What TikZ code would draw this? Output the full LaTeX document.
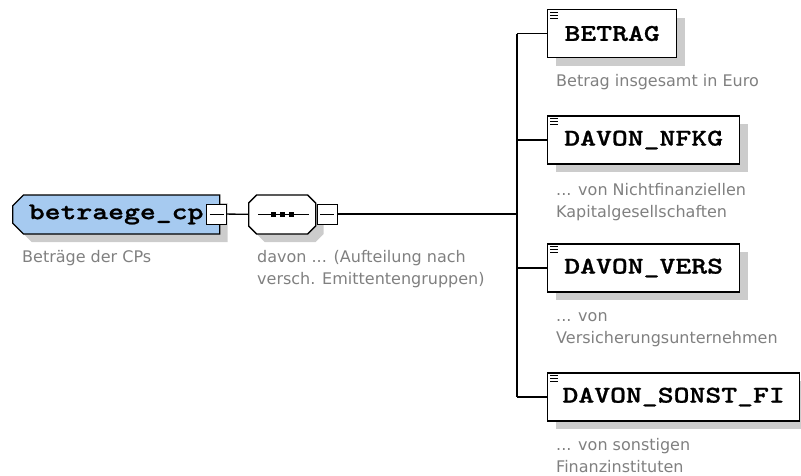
\documentclass[tikz,border=0pt]{standalone}
\usepackage{fontspec}
\usetikzlibrary{shapes.misc,shadows}
\newfontfamily\namefont{lmmonolt10-bold}[Extension=.otf, FakeStretch=1.26, FakeBold=1]
\newfontfamily\descfont{DejaVu Sans}
\definecolor{rootblue}{RGB}{166,202,240}
\definecolor{descgray}{RGB}{128,128,128}

\begin{document}
\begin{tikzpicture}[x=1pt, y=-1pt,
	boxshadow/.style={drop shadow={shadow xshift=8pt, shadow yshift=-8pt, fill=gray!40, opacity=1}},
	elem/.style={draw, line width=1.3pt, fill=white, inner sep=0pt, minimum height=48pt,
		font=\namefont\fontsize{24}{24}\selectfont, boxshadow},
	rootbox/.style={elem, chamfered rectangle, chamfered rectangle corners={north west,south west},
		chamfered rectangle xsep=8pt, fill=rootblue, minimum height=39pt, minimum width=207pt},
	seqbox/.style={elem, chamfered rectangle,
		chamfered rectangle corners={north west,south west,north east,south east},
		chamfered rectangle xsep=10pt, minimum height=39pt, minimum width=67pt},
	minusbox/.style={draw, line width=1pt, fill=white, minimum size=20pt, inner sep=0pt,
		path picture={\draw[line width=1pt] ([xshift=3pt]path picture bounding box.west)
			-- ([xshift=-3pt]path picture bounding box.east);}},
	conn/.style={line width=1.3pt},
	icon/.style={line width=0.9pt},
	desc/.style={font=\descfont\fontsize{16}{22}\selectfont, text=descgray, inner sep=0pt,
		align=left, anchor=base west}
]

% Just a workaround to keep the size of the original
\useasboundingbox (0,0) rectangle (801,475);

% Elements
\newcommand{\xelem}[4]{
	\node[elem, minimum width=#3, anchor=west]
		(#1) at (#2) {#4}
	;
	\draw[icon, shift={(#1.north west)}]
		(3,3.5) -- (11,3.5) (3,6.5) -- (11,6.5) (3,9.5) -- (11,9.5)
	;
}
\xelem  {betrag} {547,33.5} {129pt} {BETRAG}
\xelem  {nfkg}   {547,140}  {192pt} {DAVON\_NFKG}
\xelem  {vers}   {547,268}  {192pt} {DAVON\_VERS}
\xelem  {sonst}  {547,397}  {252pt} {DAVON\_SONST\_FI}

% Root and sequence
\node[rootbox, anchor=west] (root) at (12,214.5) {betraege\_cp\hspace{20pt}};
\node[minusbox] (rootminus) at (216.5,214) {};
\node[seqbox, anchor=west] (seq) at (248,214.5) {\rule{0pt}{16pt}};
\node[minusbox] (seqminus) at (327,214) {};
\draw[line width=1.3pt] ([xshift=10pt]seq.west) -- ([xshift=-7pt]seq.east);
\foreach \dx in {-9,0,9}
	\fill ([xshift=\dx pt]seq.center) +(-2.5,-2.5) rectangle +(2.5,2.5);
\coordinate (bus) at (517,214);

% Connectors
\draw[conn] (rootminus) -- (seq);
\draw[conn] (seqminus) -- (bus);
\draw[conn] (bus |- betrag.west) -- (bus |- sonst.west);
\foreach \e in {betrag,nfkg,vers,sonst}
	\draw[conn] (bus |- \e.west) -- (\e);

% Descriptions (anchored at the baseline of the last line)
\newcommand{\xdesc}[3]{
	\node[desc] (#1) at (#2) {#3};
}
\xdesc  {rootdesc}   {22,262}  {Beträge der CPs}
\xdesc  {seqdesc}    {257,284} {davon ... (Aufteilung nach\\versch. Emittentengruppen)}
\xdesc  {betragdesc} {556,86}  {Betrag insgesamt in Euro}
\xdesc  {nfkgdesc}   {556,217} {... von Nichtfinanziellen\\Kapitalgesellschaften}
\xdesc  {versdesc}   {556,343} {... von\\Versicherungsunternehmen}
\xdesc  {sonstdesc}  {556,472} {... von sonstigen\\Finanzinstituten}
\end{tikzpicture}
\end{document}
